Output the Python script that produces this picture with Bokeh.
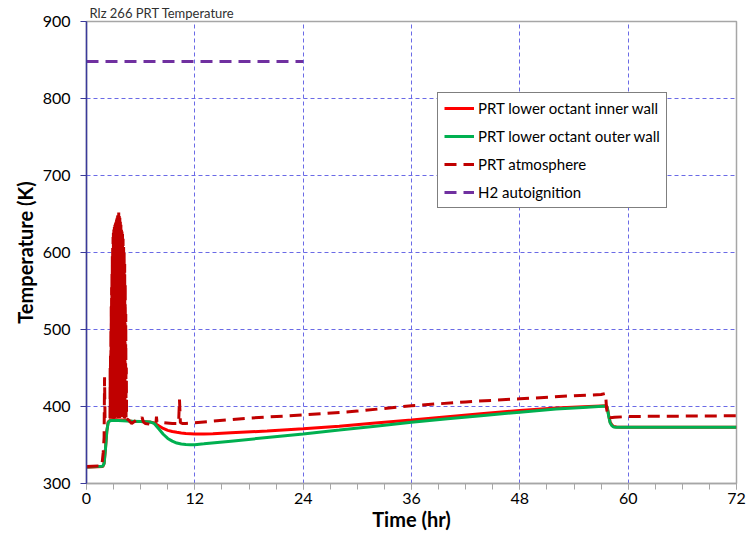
from bokeh.plotting import figure
from bokeh.models import FixedTicker, Legend, LegendItem, Range1d
from bokeh.embed import file_html
from bokeh.resources import INLINE

# ---------------- data ----------------
title_text = "Rlz 266 PRT Temperature"
x_label = "Time (hr)"
y_label = "Temperature (K)"
x_ticks = [0, 12, 24, 36, 48, 60, 72]
x_minor = [0, 3, 6, 9, 12, 15, 18, 21, 24, 27, 30, 33, 36, 39, 42, 45, 48, 51, 54, 57, 60, 63, 66, 69, 72]
y_ticks = [300, 400, 500, 600, 700, 800, 900]

# PRT lower octant inner wall
t_inner = [0, 1.8, 1.95, 2.1, 2.25, 2.4, 2.6, 3.0, 4.0, 5.0, 6.0, 7.0, 7.5, 8.0, 8.5, 9.0, 9.5, 10.0,
           10.5, 11.0, 12.0, 13.0, 14.0, 16, 20, 24, 28, 32, 36, 40, 44, 48, 52, 55, 57.6, 57.7,
           57.85, 58.0, 58.2, 58.4, 58.7, 59.2, 60, 66, 72]
v_inner = [321, 322, 326, 345, 368, 380, 382, 383, 382.5, 381, 380.5, 380, 378.5, 375, 371.5, 369,
           367.5, 366.5, 365.7, 365, 364.4, 364.3, 364.6, 365.8, 368.2, 371, 374.5, 378.5, 382.6,
           386.8, 390.9, 394.8, 398, 399.8, 401, 398, 388, 380, 376, 374, 373.3, 373, 373, 373, 373]

# PRT lower octant outer wall
t_outer = [0, 1.8, 1.95, 2.1, 2.25, 2.4, 2.6, 3.0, 4.0, 5.0, 6.0, 7.0, 7.5, 8.0, 8.5, 9.0, 9.5, 10.0,
           10.5, 11.0, 11.5, 12.0, 13, 16, 20, 24, 28, 32, 36, 40, 44, 48, 52, 55, 57.6, 57.7, 57.85,
           58.0, 58.2, 58.4, 58.7, 59.2, 60, 66, 72]
v_outer = [321.5, 322.5, 326, 345, 368, 379, 381.5, 382, 381.5, 381, 380.5, 380, 378, 371, 364,
           358.5, 355, 352.5, 351.2, 350.6, 350.4, 350.4, 351.5, 355, 359.7, 364.4, 369.4, 374.5,
           379.6, 384, 388.4, 392.6, 396.6, 398.8, 400.5, 397, 387, 379, 375, 373.5, 373, 373, 373,
           373, 373]

# PRT atmosphere
t_atm = [0, 1.7, 1.85, 1.95, 2.0, 2.05, 2.15, 2.3, 2.45, 2.6,
         2.62, 2.64, 2.66, 2.68, 2.70, 2.72, 2.74, 2.76, 2.78, 2.80, 2.82, 2.84, 2.86, 2.88, 2.90,
         2.92, 2.94, 2.96, 2.98, 3.00, 3.03, 3.06, 3.09, 3.12, 3.15, 3.18, 3.21, 3.24, 3.27, 3.30,
         3.33, 3.36, 3.39, 3.42, 3.45, 3.48, 3.51, 3.54, 3.57, 3.60, 3.63, 3.66, 3.69, 3.72, 3.75,
         3.78, 3.81, 3.84, 3.87, 3.90, 3.93, 3.96, 3.99, 4.02, 4.05, 4.08, 4.11, 4.14, 4.17, 4.20,
         4.23, 4.26, 4.29, 4.32, 4.35, 4.38, 4.41, 4.44,
         4.6, 5.0, 5.5, 6.0, 6.15, 6.3, 6.5, 7.0, 7.5, 7.7, 7.75, 7.8, 8.5, 9.5, 10.2,
         10.3, 10.4, 10.6, 11, 12, 14, 18, 24, 30, 36, 42, 48, 54, 57.0, 57.5,
         57.6, 57.75, 58.0, 58.5, 60, 66, 72]
v_atm = [322, 323, 340, 360, 438, 385, 383, 382, 383, 384,
         450, 384, 470, 385, 500, 384, 530, 386, 555, 384, 575, 385, 595, 384, 610,
         386, 620, 385, 626, 384, 630, 386, 633, 385, 636, 384, 638, 386, 640, 385,
         643, 384, 645, 386, 648, 385, 650, 384, 652, 386, 648, 385, 645, 384, 640,
         386, 636, 385, 632, 384, 628, 386, 624, 385, 618, 384, 610, 386, 600, 385,
         585, 384, 560, 386, 520, 385, 450, 384,
         383, 378, 382, 383, 386, 380, 378, 377, 378, 379, 387, 380, 379, 378, 378,
         409, 379, 378, 378, 379, 381, 385, 389, 394, 401, 406, 410, 414, 415.5, 417,
         398, 388, 385.5, 386, 387, 387.5, 388]

# H2 autoignition
t_h2 = [0, 24]
v_h2 = [848, 848]

series_names = ["PRT lower octant inner wall", "PRT lower octant outer wall",
                "PRT atmosphere", "H2 autoignition"]

# ---------------- figure ----------------
FONT = "Lato"
p = figure(width=756, height=535, output_backend="svg", toolbar_location=None,
           x_range=Range1d(0, 72), y_range=Range1d(300, 900),
           min_border_left=86, min_border_right=20, min_border_top=21, min_border_bottom=52,
           background_fill_color="white", border_fill_color="white")

p.title.text = title_text
p.title.align = "left"
p.title.offset = 3
p.title.text_font = FONT
p.title.text_font_style = "normal"
p.title.text_font_size = "13px"
p.title.text_color = "#303030"
p.title.standoff = 2

p.outline_line_color = "#A6A6A6"
p.outline_line_width = 1.5

# x axis
xa = p.xaxis[0]
xa.ticker = FixedTicker(ticks=x_ticks, minor_ticks=x_minor)
xa.axis_label = x_label
xa.axis_label_text_font = FONT
xa.axis_label_text_font_style = "bold"
xa.axis_label_text_font_size = "20px"
xa.axis_label_text_color = "black"
xa.axis_label_standoff = 0
xa.major_label_text_font = FONT
xa.major_label_text_font_size = "16px"
xa.major_label_text_color = "black"
xa.major_label_standoff = 3
xa.axis_line_color = "#A6A6A6"
xa.axis_line_width = 1.5
xa.major_tick_line_color = "#A6A6A6"
xa.minor_tick_line_color = "#A6A6A6"
xa.major_tick_in = 0
xa.major_tick_out = 6
xa.minor_tick_in = 0
xa.minor_tick_out = 6

# y axis
ya = p.yaxis[0]
ya.ticker = FixedTicker(ticks=y_ticks, minor_ticks=[])
ya.axis_label = y_label
ya.axis_label_text_font = FONT
ya.axis_label_text_font_style = "bold"
ya.axis_label_text_font_size = "20px"
ya.axis_label_text_color = "black"
ya.axis_label_standoff = 3
ya.major_label_text_font = FONT
ya.major_label_text_font_size = "16px"
ya.major_label_text_color = "black"
ya.major_label_standoff = 10
ya.axis_line_color = "#3A3A9A"
ya.axis_line_width = 1.5
ya.major_tick_line_color = "#3A3A9A"
ya.major_tick_in = 0
ya.major_tick_out = 6

# grids
p.xgrid.ticker = FixedTicker(ticks=x_ticks)
p.ygrid.ticker = FixedTicker(ticks=y_ticks)
for g in (p.xgrid[0], p.ygrid[0]):
    g.grid_line_color = "#6A6AE6"
    g.grid_line_dash = "4 3"
    g.grid_line_width = 1

# series
r_in = p.line(t_inner, v_inner, line_color="#FF0000", line_width=3)
r_out = p.line(t_outer, v_outer, line_color="#00B050", line_width=3)
r_atm = p.line(t_atm, v_atm, line_color="#C00000", line_width=3, line_dash="12 7")
r_h2 = p.line(t_h2, v_h2, line_color="#7030A0", line_width=3, line_dash="12 7")

legend = Legend(items=[LegendItem(label=series_names[0], renderers=[r_in]),
                       LegendItem(label=series_names[1], renderers=[r_out]),
                       LegendItem(label=series_names[2], renderers=[r_atm]),
                       LegendItem(label=series_names[3], renderers=[r_h2])],
                location=(351, 275))
legend.border_line_color = "black"
legend.border_line_width = 1.5
legend.background_fill_color = "white"
legend.background_fill_alpha = 1
legend.label_text_font = FONT
legend.label_text_font_size = "15px"
legend.label_text_color = "black"
legend.glyph_width = 30
legend.glyph_height = 18
legend.label_height = 18
legend.spacing = 10
legend.padding = 6
legend.margin = 0
legend.label_standoff = 4
p.add_layout(legend)

open("out.html", "w").write(file_html(p, INLINE))
